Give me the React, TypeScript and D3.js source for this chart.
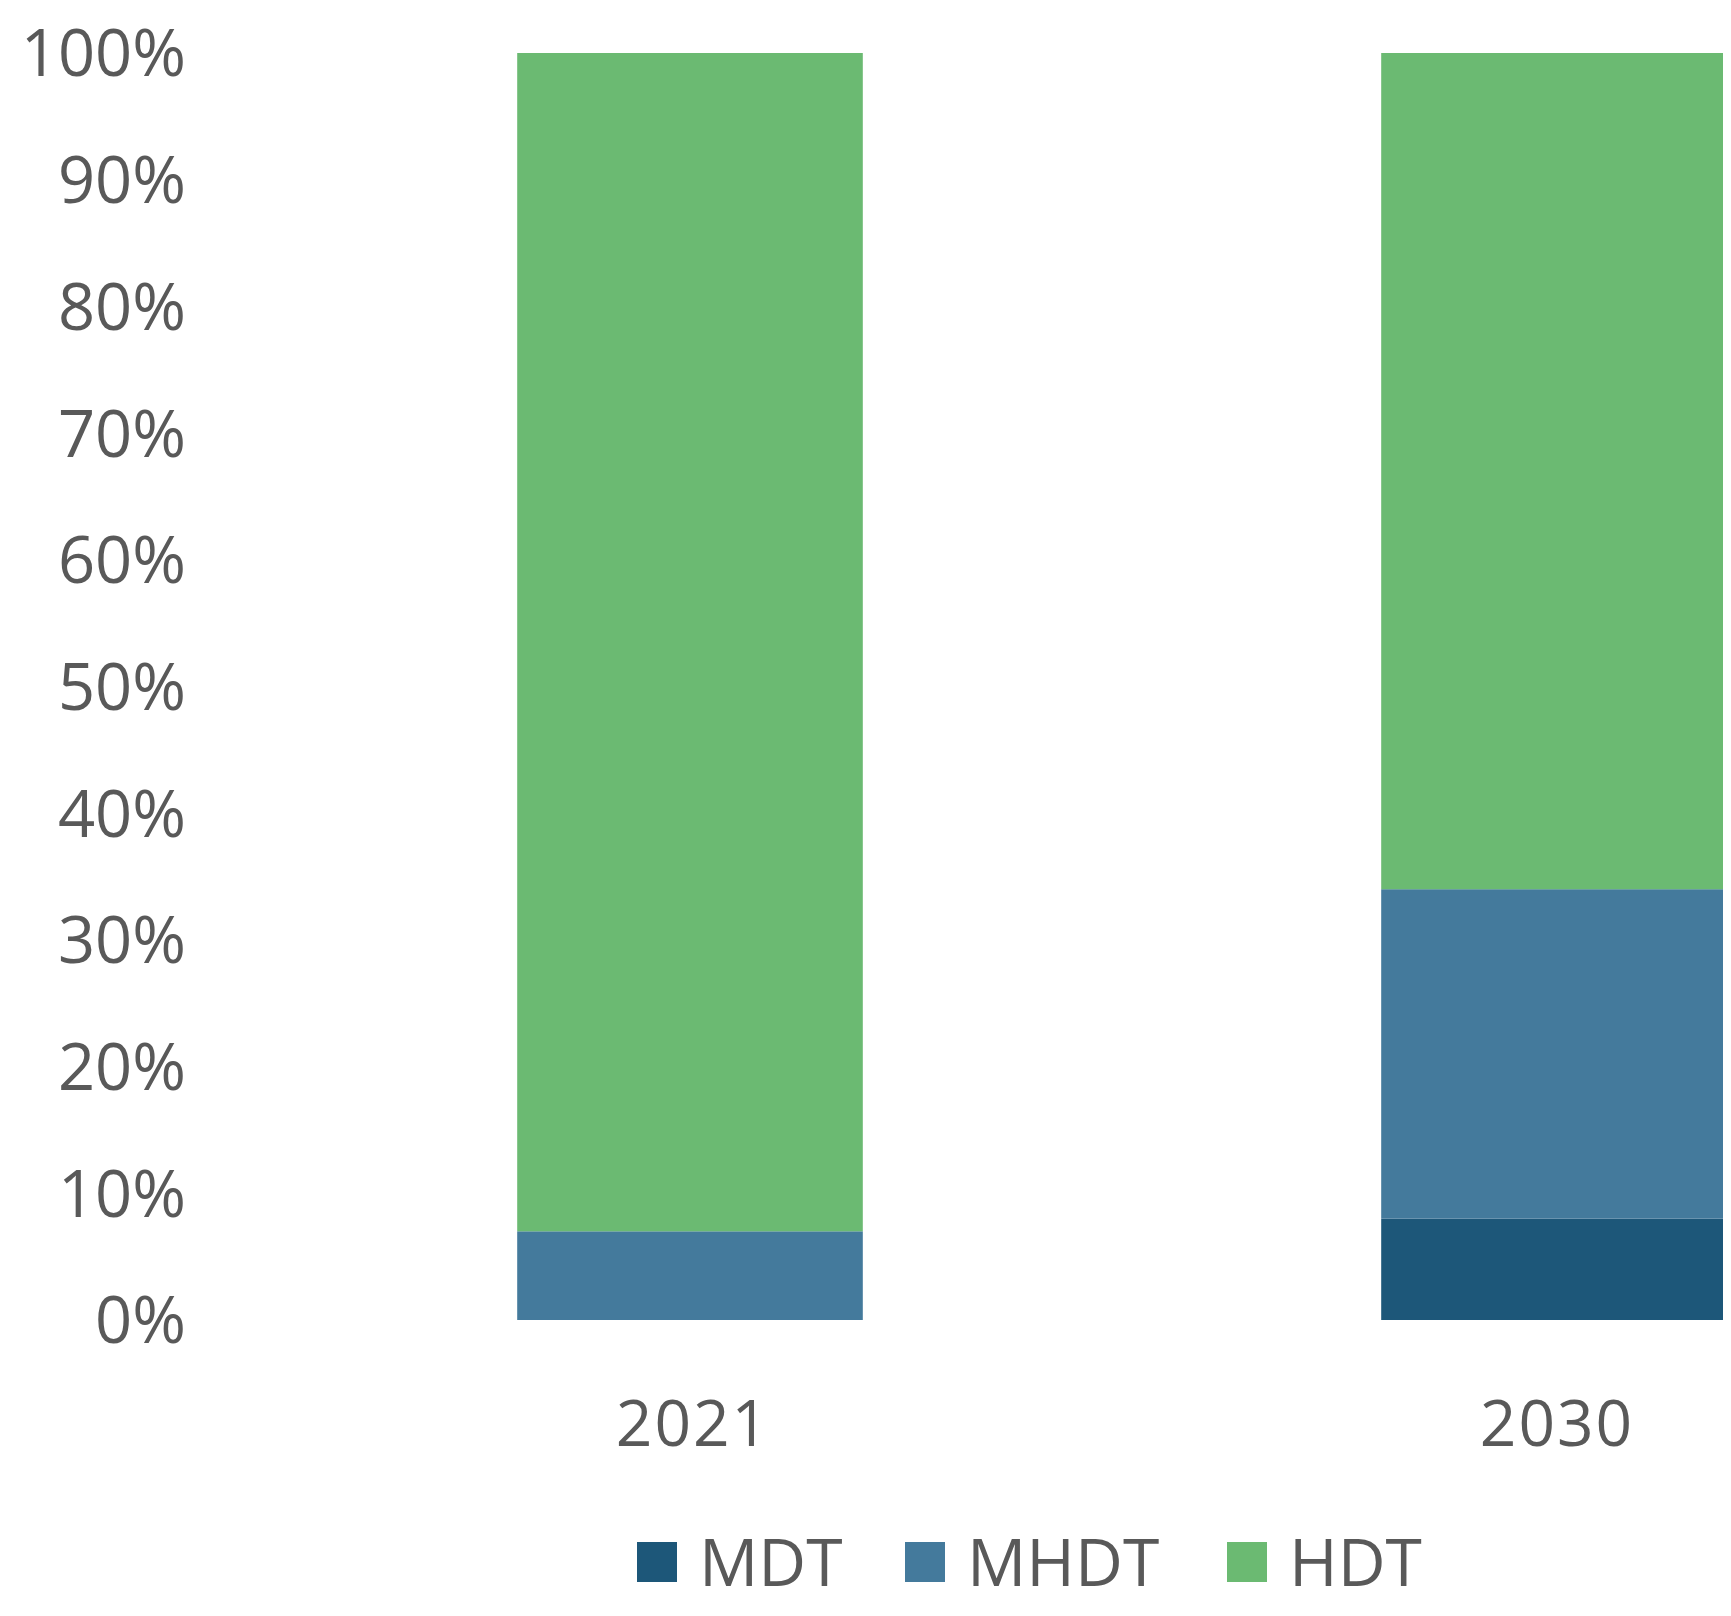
import * as d3 from 'd3';

const width = 1731;
const height = 1616;

const years = ['2021', '2030'];
const seriesNames = ['MDT', 'MHDT', 'HDT'];
const mdtShare = [0, 8];
const mhdtShare = [7, 26];
const hdtShare = [93, 66];
const yTicks = [0, 10, 20, 30, 40, 50, 60, 70, 80, 90, 100];
const colors = ['#1D5779', '#447A9C', '#6BBA72'];

const font = "'Open Sans', 'Segoe UI', sans-serif";
const textColor = '#595959';

const App = () => {
  const x = d3
    .scaleBand()
    .domain(years)
    .range([258, 1986])
    .paddingInner(0.6)
    .paddingOuter(0.3);

  const y = d3.scaleLinear().domain([0, 100]).range([1320, 53]);

  const rows = years.map((year, i) => ({
    year,
    MDT: mdtShare[i],
    MHDT: mhdtShare[i],
    HDT: hdtShare[i],
  }));
  const stacked = d3.stack().keys(seriesNames)(rows as any);

  // legend: square + label per series
  const legendItems = [
    { name: 'MDT', x: 637 },
    { name: 'MHDT', x: 905 },
    { name: 'HDT', x: 1227 },
  ];
  const legendY = 1562;

  return (
    <svg width={width} height={height} style={{ display: 'block', margin: -8 }}>
      <rect width={width} height={height} fill="#fff" />
      <g>
        {stacked.map((layer, si) =>
          layer.map((d, i) => {
            const h = y(d[0]) - y(d[1]);
            if (h <= 0) return null;
            return (
              <rect
                key={`${si}-${i}`}
                x={x(years[i])}
                y={y(d[1])}
                width={x.bandwidth()}
                height={h}
                fill={colors[si]}
              />
            );
          })
        )}
      </g>
      <g fontFamily={font} fill={textColor} fontSize={65}>
        {yTicks.map((t) => (
          <text key={t} x={186} y={y(t)} dy="0.36em" textAnchor="end">
            {t}%
          </text>
        ))}
      </g>
      <g fontFamily={font} fill={textColor} fontSize={64}>
        {years.map((yr) => (
          <text
            key={yr}
            x={(x(yr) as number) + x.bandwidth() / 2 + 3}
            y={1446}
            textAnchor="middle"
            letterSpacing={2}
          >
            {yr}
          </text>
        ))}
      </g>
      <g fontFamily={font} fill={textColor} fontSize={66}>
        {legendItems.map((item, i) => (
          <g key={item.name}>
            <rect x={item.x} y={legendY - 20} width={40} height={40} fill={colors[i]} />
            <text x={item.x + 62} y={legendY} dy="0.36em">
              {item.name}
            </text>
          </g>
        ))}
      </g>
    </svg>
  );
};

export default App;
